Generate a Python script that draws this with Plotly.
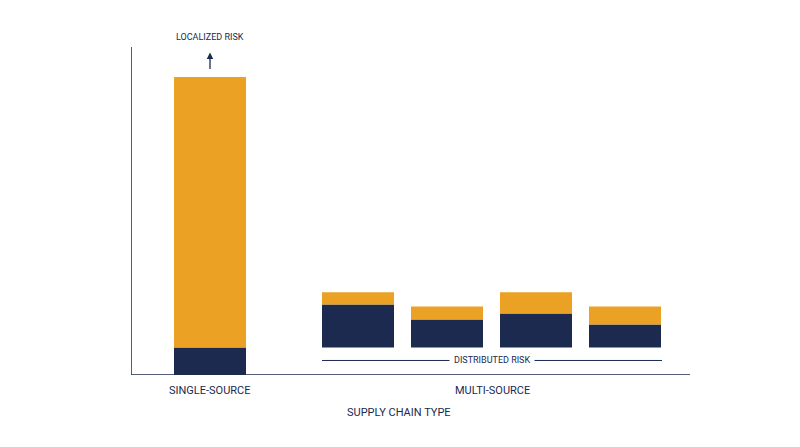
import plotly.graph_objs as go

# supply chain bars (risk units, bottom = base)
positions = [210, 358, 447, 536, 625]
bases = [0, 27.5, 27.5, 27.5, 27.5]
navy_vals = [27.5, 43, 28, 34, 23]
orange_vals = [270, 12, 13, 21, 18]
group_labels = ['SINGLE-SOURCE', 'MULTI-SOURCE']
group_pos = [210, 492]

NAVY = '#1b2a4e'
ORANGE = '#eaa124'
TXT = '#1b2a4e'
YMAX = 327.5
font = dict(family='Roboto', size=11, color=TXT)
small = dict(family='Roboto', size=9, color=TXT)


def py(v):
    # data units -> paper fraction (lets labels sit outside the plot area)
    return v / YMAX


fig = go.Figure()
fig.add_trace(go.Bar(x=positions, y=navy_vals, base=bases, width=72,
                     marker=dict(color=NAVY, line=dict(width=0))))
fig.add_trace(go.Bar(x=positions, y=orange_vals,
                     base=[b + n for b, n in zip(bases, navy_vals)], width=72,
                     marker=dict(color=ORANGE, line=dict(width=0))))

anns = [dict(x=p, y=py(-15), text=t, showarrow=False, font=font) for t, p in zip(group_labels, group_pos)]
anns += [
    dict(x=399, y=py(-37), text='SUPPLY CHAIN TYPE', showarrow=False, font=font),
    dict(x=115, y=py(164), text='RISK LEVEL', textangle=-90, showarrow=False, font=font),
    dict(x=492, y=py(14.5), text='DISTRIBUTED RISK', showarrow=False, font=small,
         bgcolor='white', borderpad=4),
    dict(x=210, y=py(337.5), text='LOCALIZED RISK', showarrow=False, font=small),
]
for a in anns:
    a.update(xref='x', yref='paper', yanchor='middle', xanchor='center')
anns.append(dict(x=210, y=322, ax=210, ay=304, xref='x', yref='y', axref='x', ayref='y', text='',
                 showarrow=True, arrowhead=2, arrowsize=1, arrowwidth=1.3, arrowcolor=TXT))

fig.update_layout(
    width=800, height=447, barmode='overlay', showlegend=False,
    paper_bgcolor='white', plot_bgcolor='white',
    margin=dict(l=123, r=118, t=39, b=80),
    xaxis=dict(range=[131, 690], visible=False, fixedrange=True),
    yaxis=dict(range=[0, YMAX], visible=False, fixedrange=True),
    annotations=anns,
    shapes=[
        dict(type='line', xref='x', yref='y', x0=131, x1=690, y0=0, y1=0, line=dict(color=TXT, width=1.5)),
        dict(type='line', xref='x', yref='y', x0=131, x1=131, y0=0, y1=YMAX, line=dict(color=TXT, width=1.5)),
        dict(type='line', xref='x', yref='y', x0=322, x1=662, y0=14.5, y1=14.5, line=dict(color=TXT, width=1)),
    ],
)
fig.write_html('out.html')
